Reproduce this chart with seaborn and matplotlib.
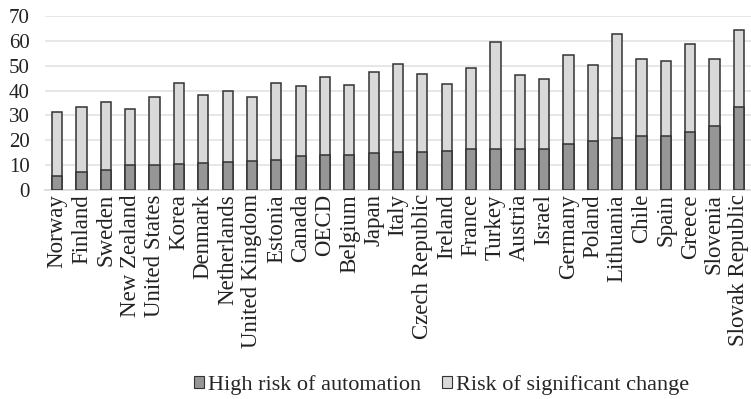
import matplotlib
matplotlib.use("Agg")
import matplotlib.pyplot as plt
from matplotlib.patches import Patch
import seaborn as sns
import pandas as pd

countries = ["Norway", "Finland", "Sweden", "New Zealand", "United States", "Korea",
             "Denmark", "Netherlands", "United Kingdom", "Estonia", "Canada", "OECD",
             "Belgium", "Japan", "Italy", "Czech Republic", "Ireland", "France", "Turkey",
             "Austria", "Israel", "Germany", "Poland", "Lithuania", "Chile", "Spain",
             "Greece", "Slovenia", "Slovak Republic"]
high_risk = [5.8, 7.2, 7.9, 10.0, 10.2, 10.6, 10.7, 11.3, 11.7, 12.1, 13.5, 14.1,
             14.1, 15.0, 15.2, 15.4, 15.8, 16.4, 16.4, 16.5, 16.6, 18.4, 19.7, 21.0,
             21.6, 21.7, 23.3, 25.7, 33.5]
totals = [31.4, 33.5, 35.5, 32.7, 37.3, 43.2, 38.2, 39.9, 37.5, 43.0, 42.0, 45.5,
          42.4, 47.3, 50.7, 46.7, 42.5, 49.1, 59.5, 46.3, 44.8, 54.2, 50.3, 62.9,
          52.8, 51.8, 58.7, 52.8, 64.5]
sig_change = [round(t - h, 1) for t, h in zip(totals, high_risk)]
yticks = [0, 10, 20, 30, 40, 50, 60, 70]

df = pd.DataFrame({"country": countries, "high": high_risk,
                   "change": sig_change})
df["total"] = df["high"] + df["change"]

sns.set_theme(style="white")
plt.rcParams["font.family"] = ["Liberation Serif", "DejaVu Serif"]

dark = "#969696"
light = "#d9d9d9"
edge = "#333333"

fig = plt.figure(figsize=(7.51, 3.99), dpi=100)
ax = fig.add_axes([0.06, 0.524, 0.94, 0.436])

sns.barplot(data=df, x="country", y="total", color=light, edgecolor=edge,
            linewidth=1.1, width=0.42, saturation=1, ax=ax, zorder=3)
sns.barplot(data=df, x="country", y="high", color=dark, edgecolor=edge,
            linewidth=1.1, width=0.42, saturation=1, ax=ax, zorder=4)

ax.set_ylim(0, 70)
ax.set_xlim(-0.5, len(countries) - 0.5)
ax.set_yticks(yticks)
ax.yaxis.grid(True, color="#e3e3e3", linewidth=1.2, zorder=0)
ax.set_axisbelow(True)
for s in ["top", "right", "left"]:
    ax.spines[s].set_visible(False)
ax.spines["bottom"].set_color("#d9d9d9")
ax.spines["bottom"].set_linewidth(1.2)
ax.set_xlabel("")
ax.set_ylabel("")
ax.tick_params(axis="y", labelsize=15, length=0, pad=11, colors="#222222")
ax.tick_params(axis="x", labelsize=16.5, length=0, pad=3, colors="#222222")
plt.setp(ax.get_xticklabels(), rotation=90, ha="center", va="top")

handles = [Patch(facecolor=dark, edgecolor=edge, linewidth=0.8),
           Patch(facecolor=light, edgecolor=edge, linewidth=0.8)]
fig.legend(handles, ["High risk of automation", "Risk of significant change"],
           loc="center", bbox_to_anchor=(0.588, 0.035), ncol=2, frameon=False,
           fontsize=16, handlelength=0.45, handleheight=0.45, handletextpad=0.2,
           columnspacing=0.9, borderpad=0)

fig.savefig("out.png", dpi=100)
